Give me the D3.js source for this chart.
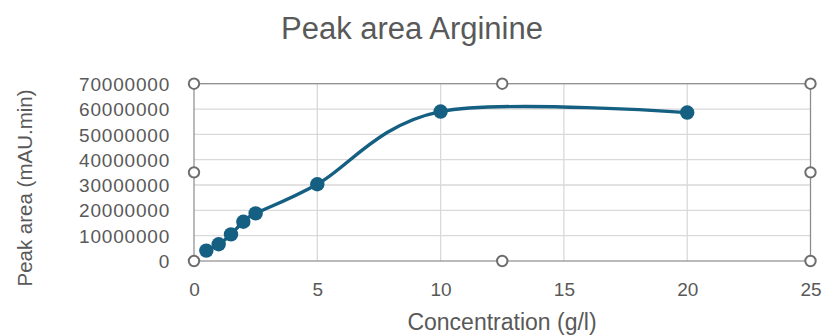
<!DOCTYPE html>
<html>
<head>
<meta charset="utf-8">
<script src="https://cdn.jsdelivr.net/npm/d3@7"></script>
<style>
  body { margin: 0; background: #fff; }
  svg { display: block; }
</style>
</head>
<body>
<svg id="chart" width="822" height="335"></svg>
<script>
// Concentration (g/l) and measured peak area (mAU.min)
const concentration = [0.5, 1, 1.5, 2, 2.5, 5, 10, 20];
const peakArea = [4100000, 6600000, 10500000, 15500000, 18800000, 30300000, 59000000, 58600000];
const xTicks = [0, 5, 10, 15, 20, 25];
const yTicks = [0, 10000000, 20000000, 30000000, 40000000, 50000000, 60000000, 70000000];

const svg = d3.select("#chart");
const m = { left: 194, right: 810.5, top: 83.7, bottom: 261 };
const ink = "#595959";
const seriesColor = "#156082";
const sans = "'Liberation Sans', Arial, sans-serif";

const x = d3.scaleLinear().domain([0, 25]).range([m.left, m.right]);
const y = d3.scaleLinear().domain([0, 70000000]).range([m.bottom, m.top]);

// Gridlines
svg.append("g").selectAll("line").data(yTicks.slice(1)).join("line")
  .attr("x1", m.left).attr("x2", m.right)
  .attr("y1", d => y(d)).attr("y2", d => y(d))
  .attr("stroke", "#d9d9d9").attr("stroke-width", 1.3);
svg.append("g").selectAll("line").data(xTicks.slice(1)).join("line")
  .attr("x1", d => x(d)).attr("x2", d => x(d))
  .attr("y1", m.top).attr("y2", m.bottom)
  .attr("stroke", "#d9d9d9").attr("stroke-width", 1.3);

// Plot-area frame
svg.append("rect")
  .attr("x", m.left).attr("y", m.top)
  .attr("width", m.right - m.left).attr("height", m.bottom - m.top)
  .attr("fill", "none").attr("stroke", "#8c8c8c").attr("stroke-width", 1.2);

// Axes (labels only)
const xAxis = svg.append("g").attr("transform", `translate(0,${m.bottom})`)
  .call(d3.axisBottom(x).tickValues(xTicks).tickSize(0).tickPadding(22).tickFormat(d3.format("d")));
xAxis.select(".domain").remove();
xAxis.selectAll("text").attr("fill", ink).style("font-family", sans).style("font-size", "19px");

const yAxis = svg.append("g").attr("transform", `translate(${m.left},0)`)
  .call(d3.axisLeft(y).tickValues(yTicks).tickSize(0).tickPadding(24).tickFormat(d3.format("d")));
yAxis.select(".domain").remove();
yAxis.selectAll("text").attr("fill", ink).attr("dy", "0.35em")
  .style("font-family", sans).style("font-size", "19px").style("letter-spacing", "0.8px");

// Smoothed series line (uniform Catmull-Rom)
const line = d3.line()
  .x((d, i) => x(concentration[i]))
  .y(d => y(d))
  .curve(d3.curveCatmullRom.alpha(0));
svg.append("path").datum(peakArea)
  .attr("d", line)
  .attr("fill", "none").attr("stroke", seriesColor).attr("stroke-width", 3.4);

// Markers
svg.append("g").selectAll("circle").data(peakArea).join("circle")
  .attr("cx", (d, i) => x(concentration[i]))
  .attr("cy", d => y(d))
  .attr("r", 7.2).attr("fill", seriesColor);

// Selection handles around the plot area
const mx = (m.left + m.right) / 2, my = (m.top + m.bottom) / 2;
const handles = [[m.left, m.top], [mx, m.top], [m.right, m.top],
                 [m.left, my], [m.right, my],
                 [m.left, m.bottom], [mx, m.bottom], [m.right, m.bottom]];
svg.append("g").selectAll("circle").data(handles).join("circle")
  .attr("cx", d => d[0]).attr("cy", d => d[1]).attr("r", 5.2)
  .attr("fill", "#fff").attr("stroke", "#6e6e6e").attr("stroke-width", 2);

// Titles
svg.append("text").attr("x", 412).attr("y", 39).attr("text-anchor", "middle")
  .attr("fill", ink).style("font-family", sans).style("font-size", "31px")
  .text("Peak area Arginine");

svg.append("text").attr("x", 502).attr("y", 330).attr("text-anchor", "middle")
  .attr("fill", ink).style("font-family", sans).style("font-size", "23px")
  .text("Concentration (g/l)");

svg.append("text")
  .attr("transform", "translate(32,188) rotate(-90)")
  .attr("text-anchor", "middle")
  .attr("fill", ink).style("font-family", sans).style("font-size", "20.5px")
  .text("Peak area (mAU.min)");
</script>
</body>
</html>
